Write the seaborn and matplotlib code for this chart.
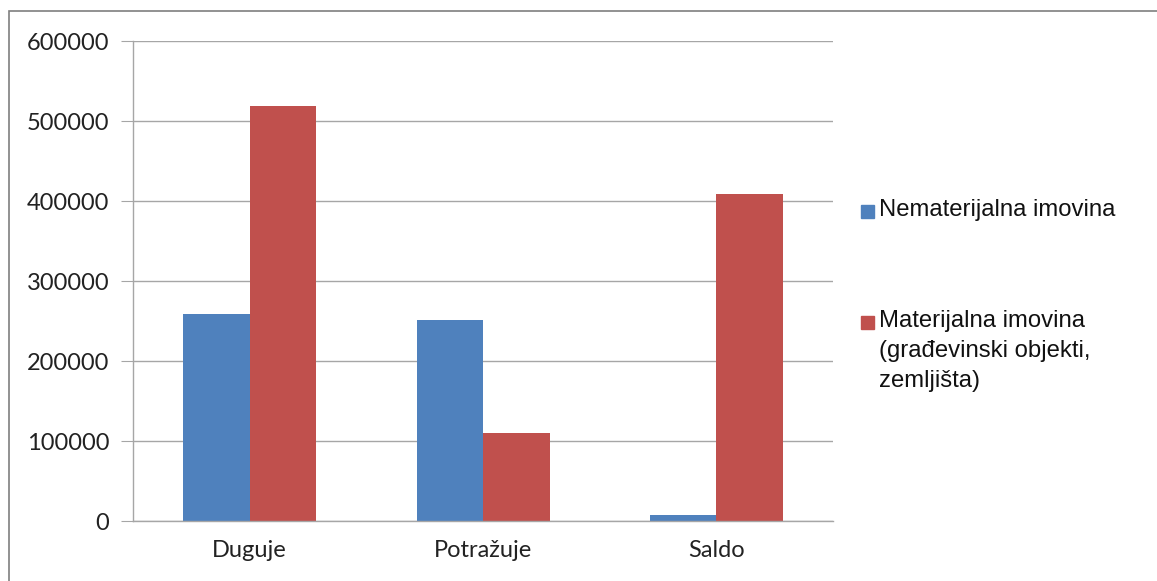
import numpy as np
import matplotlib
matplotlib.use("Agg")
import matplotlib.pyplot as plt
from matplotlib.patches import Rectangle
import seaborn as sns
import pandas as pd

categories = ['Duguje', 'Potražuje', 'Saldo']
series = ['Nematerijalna imovina',
          'Materijalna imovina\n(građevinski objekti,\nzemljišta)']
nematerijalna = [258500, 251000, 7500]
materijalna = [518500, 110000, 408500]
yticks = [0, 100000, 200000, 300000, 400000, 500000, 600000]
colors = ['#4F81BD', '#C0504D']

df = pd.DataFrame({
    'kategorija': categories * 2,
    'serija': [series[0]] * 3 + [series[1]] * 3,
    'iznos': nematerijalna + materijalna,
})

sns.set_style('white')
plt.rcParams['font.family'] = ['Lato', 'DejaVu Sans']

W, H = 1157, 581
fig = plt.figure(figsize=(W/100, H/100), dpi=100)
ax = fig.add_axes([133/W, 1-521/H, 700/W, 480/H])

sns.barplot(data=df, x='kategorija', y='iznos', hue='serija', palette=colors,
            width=0.57, ax=ax, saturation=1, legend=False, linewidth=0)

grid_c = '#A6A6A6'
ax.set_ylim(0, 600000)
ax.set_xlim(-0.5, 2.5)
ax.set_yticks(yticks)
ax.set_yticklabels([str(v) for v in yticks], fontsize=17, color='#222222')
ax.yaxis.grid(True, color=grid_c, linewidth=1)
ax.set_axisbelow(True)
ax.set_xticks(range(3))
ax.set_xticklabels(categories, fontsize=17, color='#222222')
ax.set_xticks([-0.5, 0.5, 1.5, 2.5], minor=True)
ax.tick_params(axis='x', which='major', length=0, pad=14)
ax.tick_params(axis='x', which='minor', length=9, color=grid_c, direction='out')
ax.tick_params(axis='y', length=9, color=grid_c, direction='out', pad=8, left=True)
ax.set_xlabel('')
ax.set_ylabel('')
for s in ['top', 'right']:
    ax.spines[s].set_visible(False)
for s in ['left', 'bottom']:
    ax.spines[s].set_color(grid_c)
    ax.spines[s].set_linewidth(1)

# legend drawn by hand, Excel style
leg_font = ['Liberation Sans', 'DejaVu Sans']
for (c, label, ytop) in zip(colors, series, [205, 316]):
    fig.patches.append(Rectangle((861/W, 1-(ytop+13)/H), 13/W, 13/H,
                                 transform=fig.transFigure, color=c))
    fig.text(879/W, 1-(ytop-6)/H, label, ha='left', va='top', fontsize=17.2,
             family=leg_font, color='#111111', linespacing=1.48)

fig.patches.append(Rectangle((9/W, -0.1), 1.2, 1.1 - 11/H,
                             transform=fig.transFigure, fill=False,
                             edgecolor='#7F7F7F', linewidth=1.2))

fig.savefig('out.png', dpi=100)
